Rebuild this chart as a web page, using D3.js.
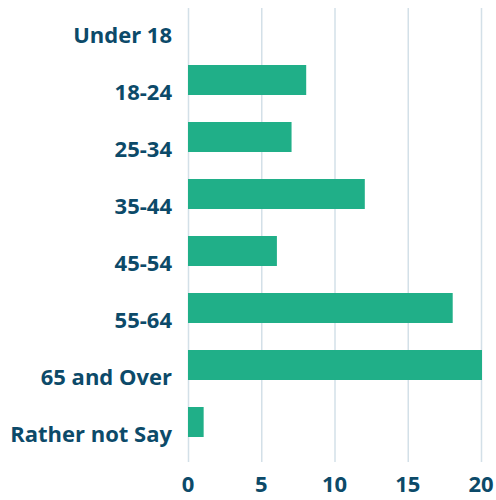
<!DOCTYPE html>
<html>
<head>
<meta charset="utf-8">
<script src="https://cdn.jsdelivr.net/npm/d3@7"></script>
<style>
  body{margin:0;background:#fff;}
  svg{display:block;}
  text{font-family:"Open Sans",sans-serif;font-weight:700;fill:#0c4a69;}
</style>
</head>
<body>
<div id="chart"></div>
<script>
// age groups and counts
const categories=["Under 18","18-24","25-34","35-44","45-54","55-64","65 and Over","Rather not Say"];
const values=[0,8,7,12,6,18,20,1];
const ticks=[0,5,10,15,20];

const W=496,H=500;
const plotL=188,plotR=481,plotT=8,plotB=462;

const svg=d3.select("#chart").append("svg")
  .attr("width",W).attr("height",H);

const x=d3.scaleLinear().domain([0,20]).range([plotL,plotR]);
const y=d3.scaleBand().domain(categories).range([plotT,437])
  .paddingInner(27/57).paddingOuter(0);

// grid lines
svg.append("g").selectAll("line")
  .data(ticks)
  .enter()
  .append("line")
  .attr("x1",d=>x(d)+0.5).attr("x2",d=>x(d)+0.5)
  .attr("y1",plotT).attr("y2",plotB)
  .attr("stroke","#d3e0e8").attr("stroke-width",1.5);

// bars
svg.append("g").selectAll("rect")
  .data(values)
  .enter()
  .append("rect")
  .attr("x",x(0))
  .attr("y",(d,i)=>y(categories[i]))
  .attr("width",d=>d===0?0:x(d)-x(0)+1)
  .attr("height",y.bandwidth())
  .attr("fill","#20af88");

// category labels
svg.append("g").selectAll("text")
  .data(categories)
  .enter()
  .append("text")
  .attr("x",172)
  .attr("y",d=>y(d)+y.bandwidth()/2+20)
  .attr("text-anchor","end")
  .style("font-size","22px")
  .text(d=>d);

// x tick labels
svg.append("g").selectAll("text")
  .data(ticks)
  .enter()
  .append("text")
  .attr("x",d=>x(d))
  .attr("y",492)
  .attr("text-anchor","middle")
  .style("font-size","22px")
  .text(d=>d);
</script>
</body>
</html>
